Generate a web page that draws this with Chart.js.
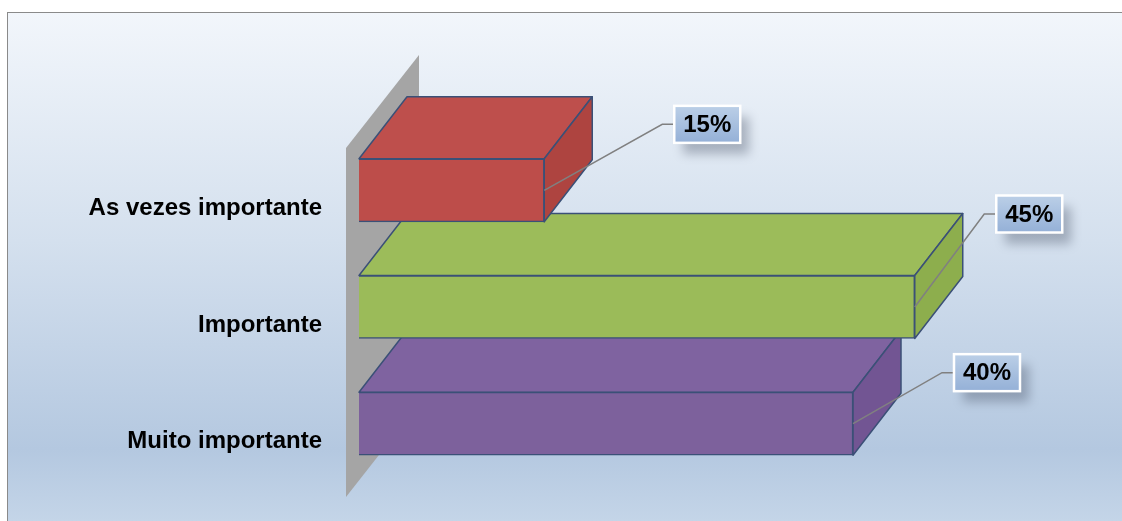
<!DOCTYPE html>
<html><head><meta charset="utf-8">
<script src="https://cdn.jsdelivr.net/npm/chart.js@4.4.1/dist/chart.umd.min.js"></script>
<style>html,body{margin:0;padding:0;background:#fff;overflow:hidden}</style>
</head><body>
<canvas id="c" width="1122" height="521"></canvas>
<script>
const categories = ['As vezes importante', 'Importante', 'Muito importante'];
const values = [15, 45, 40];
const frontColors = ['#bd4d4a', '#9bbb59', '#7d619c'];
const topColors = ['#be4f4c', '#9cbc5a', '#7f63a0'];
const sideColors = ['#ae4440', '#8dae4d', '#725593'];
const valueLabels = values.map(v => v + '%');

// callout box centre offsets relative to the bar's end / centre (pixels)
const calloutOffsets = [[163, -66], [114.5, -93], [134, -51]];
const DEPTH_X = 48, DEPTH_Y = -62;
const OUTLINE = '#3b5077';

const bgPlugin = {
  id: 'bg',
  beforeDraw(chart) {
    const ctx = chart.ctx;
    ctx.save();
    ctx.fillStyle = '#ffffff';
    ctx.fillRect(0, 0, chart.width, chart.height);
    const g = ctx.createLinearGradient(0, 12, 0, 521);
    g.addColorStop(0, '#f2f6fb');
    g.addColorStop(0.45, '#d4e0ee');
    g.addColorStop(0.86, '#b4c8e0');
    g.addColorStop(1, '#c4d5e8');
    ctx.fillStyle = g;
    ctx.fillRect(7, 12, chart.width - 7, chart.height - 12);
    ctx.strokeStyle = '#8a8a8a';
    ctx.lineWidth = 1;
    ctx.strokeRect(7.5, 12.5, chart.width + 10, chart.height + 10);
    ctx.restore();
  }
};

const box3dPlugin = {
  id: 'box3d',
  beforeDatasetsDraw(chart) {
    const ctx = chart.ctx;
    const a = chart.chartArea;
    ctx.save();
    // side wall
    const wx = a.left - 13, wt = a.top + 16, wb = a.bottom + 15;
    ctx.fillStyle = '#a5a5a5';
    ctx.beginPath();
    ctx.moveTo(wx, wb);
    ctx.lineTo(wx, wt);
    ctx.lineTo(wx + 73, wt - 93);
    ctx.lineTo(wx + 73, wb - 93);
    ctx.closePath();
    ctx.fill();
    // extrusions, from bottom bar to top bar
    const meta = chart.getDatasetMeta(0);
    ctx.lineWidth = 1.5;
    ctx.strokeStyle = OUTLINE;
    ctx.lineJoin = 'round';
    for (let i = meta.data.length - 1; i >= 0; i--) {
      const el = meta.data[i];
      const p = el.getProps(['x', 'y', 'base', 'height'], true);
      const l = p.base, r = p.x, t = p.y - p.height / 2, b = p.y + p.height / 2;
      // top face
      ctx.fillStyle = topColors[i];
      ctx.beginPath();
      ctx.moveTo(l, t);
      ctx.lineTo(l + DEPTH_X, t + DEPTH_Y);
      ctx.lineTo(r + DEPTH_X, t + DEPTH_Y);
      ctx.lineTo(r, t);
      ctx.closePath();
      ctx.fill(); ctx.stroke();
      // side face
      ctx.fillStyle = sideColors[i];
      ctx.beginPath();
      ctx.moveTo(r, t);
      ctx.lineTo(r + DEPTH_X, t + DEPTH_Y);
      ctx.lineTo(r + DEPTH_X, b + DEPTH_Y);
      ctx.lineTo(r, b);
      ctx.closePath();
      ctx.fill(); ctx.stroke();
    }
    ctx.restore();
  },
  afterDatasetsDraw(chart) {
    const ctx = chart.ctx;
    const meta = chart.getDatasetMeta(0);
    ctx.save();
    ctx.font = 'bold 24px "Liberation Sans", Arial, sans-serif';
    meta.data.forEach((el, i) => {
      const p = el.getProps(['x', 'y'], true);
      const cx = p.x + calloutOffsets[i][0], cy = p.y + calloutOffsets[i][1];
      const w = 66, h = 37;
      const bl = cx - w / 2, bt = cy - h / 2;
      // leader line
      ctx.strokeStyle = '#808080';
      ctx.lineWidth = 1.5;
      ctx.beginPath();
      ctx.moveTo(p.x, p.y);
      ctx.lineTo(bl - 12, cy);
      ctx.lineTo(bl, cy);
      ctx.stroke();
      // box with shadow
      ctx.save();
      ctx.shadowColor = 'rgba(60,70,90,0.35)';
      ctx.shadowBlur = 10;
      ctx.shadowOffsetX = 9;
      ctx.shadowOffsetY = 11;
      const g = ctx.createLinearGradient(0, bt, 0, bt + h);
      g.addColorStop(0, '#bbcfe7');
      g.addColorStop(1, '#94b0d7');
      ctx.fillStyle = g;
      ctx.fillRect(bl, bt, w, h);
      ctx.restore();
      ctx.strokeStyle = '#ffffff';
      ctx.lineWidth = 2.5;
      ctx.strokeRect(bl, bt, w, h);
      ctx.fillStyle = '#000000';
      ctx.textAlign = 'center';
      ctx.textBaseline = 'middle';
      ctx.fillText(valueLabels[i], cx, cy + 1);
    });
    ctx.restore();
  }
};

new Chart(document.getElementById('c'), {
  type: 'bar',
  data: {
    labels: categories,
    datasets: [{
      data: values,
      backgroundColor: frontColors,
      borderColor: OUTLINE,
      borderWidth: 1.5,
      barThickness: 63
    }]
  },
  options: {
    indexAxis: 'y',
    responsive: false,
    animation: false,
    devicePixelRatio: 1,
    layout: { padding: { left: 0, right: 22, top: 132, bottom: 39 } },
    plugins: { legend: { display: false }, tooltip: { enabled: false } },
    scales: {
      x: { display: false, min: 0, max: 60 },
      y: {
        grid: { display: false, drawTicks: true, tickLength: 37 },
        border: { display: false },
        afterFit(scale) { scale.width = 359; scale.paddingTop = 0; scale.paddingBottom = 0; },
        ticks: {
          padding: 0,
          labelOffset: 18,
          color: '#000000',
          font: { family: '"Liberation Sans", Arial, sans-serif', size: 24, weight: 'bold' }
        }
      }
    }
  },
  plugins: [bgPlugin, box3dPlugin]
});
</script>
</body></html>
